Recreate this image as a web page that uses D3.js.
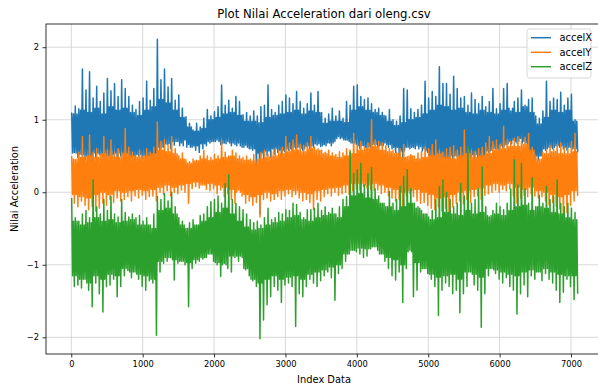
<!DOCTYPE html>
<html>
<head>
<meta charset="utf-8">
<script src="https://cdn.jsdelivr.net/npm/d3@7"></script>
<style>
  html, body { margin: 0; padding: 0; background: #ffffff; }
  svg { display: block; }
  text { font-family: "DejaVu Sans", sans-serif; fill: #000; }
</style>
</head>
<body>
<svg id="chart" width="598" height="389"></svg>
<script>
// Sensor readings from oleng.csv, summarised per block of 50 samples
// (local peak / local trough) and per block of 100 samples (the dense core band).
const binSize = 50;

const accelXHigh = [
  1.10,1.19,1.15,1.70,1.41,1.66,1.30,1.46,1.25,1.37,
  1.57,1.40,1.50,1.32,1.55,1.43,1.32,1.20,1.14,1.25,
  1.30,1.53,1.27,1.43,2.11,1.55,1.70,1.45,1.57,1.27,
  1.34,1.16,1.04,0.95,0.86,0.95,0.90,1.02,1.14,1.05,
  1.11,1.18,1.48,1.20,1.27,1.16,1.32,1.25,1.07,1.10,
  1.05,1.12,1.05,1.18,1.20,1.48,1.14,1.10,1.20,1.25,
  1.34,1.30,1.22,1.39,1.25,1.16,1.22,1.37,1.20,1.39,
  1.10,1.02,1.08,1.16,1.05,1.12,1.02,1.25,1.20,1.46,
  1.48,1.32,1.28,1.30,1.22,1.14,1.16,1.10,1.05,1.14,
  1.00,0.98,1.05,1.43,1.41,1.15,1.10,1.14,1.20,1.53,
  1.30,1.39,1.32,1.73,1.50,1.50,1.35,1.60,1.43,1.30,
  1.32,1.20,1.37,1.28,1.22,1.32,1.18,1.25,1.43,1.15,
  1.22,1.43,1.50,1.12,1.25,1.30,1.41,1.20,1.28,1.30,
  1.05,1.02,1.12,1.53,1.25,1.30,1.28,1.38,1.20,1.30,
  1.35,1.00
];
const accelXLow = [
  0.55,0.48,0.52,0.45,0.50,0.42,0.48,0.52,0.45,0.50,
  0.47,0.52,0.44,0.50,0.46,0.53,0.48,0.45,0.50,0.47,
  0.44,0.49,0.40,0.30,0.55,0.62,0.66,0.60,0.65,0.70,
  0.68,0.72,0.66,0.62,0.58,0.55,0.60,0.64,0.68,0.70,
  0.72,0.66,0.68,0.70,0.64,0.66,0.68,0.62,0.65,0.60,
  0.58,0.30,-0.30,0.45,0.50,0.48,0.52,0.55,0.50,0.56,
  0.58,0.55,0.60,0.62,0.58,0.63,0.60,0.62,0.65,0.63,
  0.66,0.68,0.64,0.70,0.77,0.75,0.72,0.70,0.68,0.66,
  0.60,0.64,0.58,0.62,0.66,0.63,0.65,0.68,0.62,0.60,
  0.55,0.50,0.45,0.62,0.60,0.62,0.64,0.63,0.60,0.55,
  0.50,0.45,0.48,0.44,0.46,0.42,0.47,0.50,0.48,0.46,
  0.45,0.48,0.44,0.47,0.45,0.50,0.55,0.58,0.60,0.56,
  0.62,0.66,0.70,0.72,0.68,0.74,0.70,0.60,0.45,0.42,
  0.44,0.50,0.58,0.62,0.60,0.64,0.62,0.60,0.58,0.62,
  0.60,0.55
];
const accelXCoreHigh = [
  1.08,1.13,1.10,1.16,1.08,1.18,1.13,1.16,1.10,1.06,
  1.13,1.18,1.28,1.23,1.13,1.03,0.90,0.84,0.88,1.00,
  1.03,1.08,1.10,1.06,0.98,0.98,0.96,1.03,1.06,1.08,
  1.10,1.13,1.08,1.12,1.10,0.95,0.98,0.98,0.96,1.13,
  1.18,1.13,1.10,1.06,0.98,0.92,0.96,1.00,1.03,1.08,
  1.13,1.20,1.18,1.13,1.16,1.10,1.08,1.13,1.10,1.08,
  1.13,1.16,1.10,1.18,1.10,0.94,1.03,1.13,1.10,1.13,
  0.98
];
const accelXCoreLow = [
  0.54,0.52,0.50,0.54,0.52,0.50,0.54,0.52,0.50,0.52,
  0.50,0.47,0.62,0.67,0.70,0.64,0.62,0.64,0.67,0.70,
  0.70,0.67,0.68,0.64,0.62,0.60,0.54,0.57,0.60,0.58,
  0.60,0.62,0.60,0.64,0.67,0.64,0.68,0.74,0.72,0.68,
  0.64,0.62,0.66,0.64,0.66,0.62,0.57,0.62,0.60,0.57,
  0.50,0.48,0.47,0.50,0.48,0.50,0.52,0.50,0.57,0.60,
  0.64,0.67,0.70,0.68,0.57,0.50,0.60,0.62,0.64,0.62,
  0.60
];

const accelYHigh = [
  0.50,0.45,0.55,0.77,0.50,0.79,0.55,0.60,0.52,0.77,
  0.58,0.72,0.55,0.60,0.55,0.88,0.62,0.55,0.50,0.58,
  0.50,0.60,0.55,0.62,0.97,0.70,0.72,0.65,0.77,0.60,
  0.50,0.54,0.45,0.42,0.46,0.44,0.50,0.58,0.50,0.48,
  0.52,0.50,0.72,0.55,0.50,0.58,0.54,0.50,0.48,0.50,
  0.46,0.52,0.45,0.55,0.58,0.52,0.56,0.60,0.58,0.62,
  0.77,0.68,0.72,0.79,0.66,0.64,0.68,0.77,0.62,0.60,
  0.58,0.55,0.58,0.54,0.52,0.56,0.54,0.60,0.58,0.81,
  0.66,0.70,0.62,0.68,1.00,0.72,0.70,0.68,0.64,0.60,
  0.58,0.55,0.60,0.66,0.49,0.52,0.50,0.54,0.56,0.62,
  0.60,0.66,0.72,0.58,0.55,0.60,0.62,0.64,0.58,0.62,
  0.86,0.60,0.58,0.56,0.60,0.62,0.68,0.77,0.70,0.72,
  0.66,0.91,0.72,0.70,0.74,0.77,0.70,0.76,0.81,0.62,
  0.50,0.45,0.55,0.58,0.64,0.60,0.66,0.68,0.62,0.60,
  0.70,0.81
];
const accelYLow = [
  -0.15,-0.20,-0.12,-0.18,-0.24,-0.20,-0.26,-0.22,-0.15,-0.18,
  -0.10,-0.14,-0.08,-0.12,-0.10,-0.06,-0.12,-0.05,-0.08,-0.04,
  -0.10,-0.06,-0.05,-0.12,0.00,-0.03,0.02,-0.05,0.00,-0.02,
  0.03,0.00,-0.15,0.05,0.08,0.06,0.10,0.04,0.02,0.05,
  -0.02,0.03,-0.06,-0.02,-0.10,-0.15,0.03,-0.05,-0.15,-0.12,
  -0.18,-0.14,-0.34,-0.10,-0.08,-0.12,-0.10,-0.06,-0.10,-0.05,
  -0.02,-0.06,-0.03,-0.08,-0.12,-0.10,-0.14,-0.24,-0.10,-0.12,
  -0.06,-0.02,-0.05,0.00,-0.04,-0.02,0.00,-0.03,0.02,0.05,
  0.03,0.08,0.06,0.04,0.02,0.03,-0.02,0.00,-0.05,-0.08,
  -0.12,-0.10,-0.34,-0.05,-0.02,-0.06,-0.12,-0.15,-0.14,-0.18,
  -0.22,-0.24,-0.20,-0.26,-0.22,-0.45,-0.20,-0.15,-0.12,-0.16,
  -0.10,-0.14,-0.06,-0.05,-0.10,-0.04,-0.02,0.00,0.03,0.00,
  0.04,0.02,0.05,-0.05,-0.15,-0.08,-0.04,-0.06,-0.02,-0.05,
  -0.08,-0.06,-0.12,-0.18,-0.14,-0.20,-0.23,-0.36,-0.28,-0.18,
  -0.12,-0.05
];
const accelYCoreHigh = [
  0.46,0.48,0.50,0.48,0.53,0.50,0.48,0.53,0.50,0.48,
  0.50,0.53,0.58,0.56,0.53,0.46,0.40,0.43,0.46,0.44,
  0.46,0.48,0.50,0.46,0.44,0.43,0.46,0.48,0.50,0.53,
  0.56,0.58,0.56,0.60,0.58,0.53,0.50,0.48,0.50,0.53,
  0.58,0.60,0.63,0.58,0.56,0.53,0.48,0.50,0.46,0.48,
  0.50,0.53,0.48,0.46,0.50,0.53,0.48,0.50,0.53,0.58,
  0.60,0.63,0.63,0.66,0.58,0.46,0.53,0.56,0.53,0.53,
  0.56
];
const accelYCoreLow = [
  -0.03,-0.06,-0.08,-0.03,0.00,-0.03,0.02,0.00,0.02,0.04,
  0.02,0.04,0.07,0.10,0.07,0.10,0.12,0.14,0.10,0.12,
  0.10,0.07,0.04,0.00,-0.03,-0.06,-0.03,0.00,-0.02,0.02,
  0.04,0.02,0.00,-0.02,0.02,0.04,0.06,0.07,0.10,0.12,
  0.12,0.10,0.12,0.10,0.07,0.04,0.00,0.02,0.04,0.00,
  -0.03,-0.08,-0.06,-0.03,0.00,0.02,0.04,0.06,0.10,0.12,
  0.10,0.12,0.07,0.04,0.07,0.02,0.00,-0.03,-0.06,-0.03,
  0.02
];

const accelZHigh = [
  -0.08,-0.35,-0.40,-0.30,-0.25,-0.35,0.17,-0.20,-0.30,-0.10,
  -0.25,-0.06,-0.30,-0.34,-0.10,-0.28,-0.34,-0.30,-0.35,-0.32,
  -0.40,-0.35,-0.45,-0.30,-0.06,-0.10,-0.02,-0.12,0.00,-0.20,
  -0.35,-0.40,-0.50,-0.42,-0.38,-0.45,-0.32,-0.30,-0.20,-0.13,
  -0.10,-0.05,-0.15,0.12,0.24,-0.10,-0.15,-0.20,-0.24,-0.30,
  -0.38,-0.42,-0.40,-0.45,-0.35,-0.22,-0.38,-0.35,-0.28,-0.30,
  -0.24,-0.25,-0.15,-0.17,-0.28,-0.35,-0.24,-0.24,-0.22,-0.15,
  -0.25,-0.20,-0.28,-0.22,-0.30,-0.20,-0.10,-0.06,0.56,0.26,
  0.31,0.40,0.10,0.26,0.34,0.05,-0.05,-0.15,-0.20,0.01,
  -0.15,-0.10,0.08,0.22,0.31,0.05,-0.15,-0.20,-0.25,-0.30,
  -0.34,-0.25,-0.10,0.08,0.17,0.00,-0.10,-0.20,-0.15,0.12,
  -0.05,0.63,-0.15,-0.10,0.05,0.35,-0.20,-0.34,-0.25,-0.15,
  -0.20,-0.24,-0.15,0.05,0.45,0.10,0.40,0.05,-0.15,0.20,
  -0.20,-0.04,-0.15,0.08,-0.10,-0.05,0.17,-0.15,-0.20,-0.15,
  -0.22,-0.28
];
const accelZLow = [
  -1.30,-1.28,-1.32,-1.20,-1.35,-1.58,-1.25,-1.40,-1.65,-1.30,
  -1.28,-1.20,-1.44,-1.30,-1.15,-1.08,-1.18,-1.10,-1.20,-1.30,
  -1.35,-1.22,-1.25,-1.97,-1.10,-0.98,-0.95,-0.90,-1.21,-0.98,
  -0.95,-1.00,-1.58,-1.05,-0.98,-0.95,-0.92,-0.90,-0.85,-0.95,
  -1.00,-1.16,-0.98,-1.05,-1.10,-0.90,-0.95,-0.90,-1.07,-1.15,
  -1.22,-1.30,-2.02,-1.76,-1.55,-1.44,-1.30,-1.35,-1.52,-1.28,
  -1.25,-1.30,-1.85,-1.40,-1.44,-1.30,-1.20,-1.25,-1.30,-1.22,
  -1.15,-1.10,-1.18,-1.49,-1.12,-1.05,-0.95,-0.85,-0.80,-0.82,
  -0.85,-0.90,-0.88,-0.78,-0.75,-0.80,-0.85,-0.95,-1.05,-1.15,
  -1.21,-1.10,-1.52,-1.05,-0.80,-1.44,-1.35,-1.10,-1.05,-1.12,
  -1.20,-1.30,-1.70,-1.35,-1.25,-1.30,-1.40,-1.35,-1.66,-1.40,
  -1.30,-1.10,-1.28,-1.35,-1.86,-1.40,-1.15,-1.05,-1.12,-1.20,
  -1.25,-1.18,-1.30,-1.35,-1.68,-1.40,-1.28,-1.44,-1.15,-1.20,
  -1.10,-1.22,-1.12,-1.20,-1.25,-1.35,-1.52,-1.38,-1.20,-1.30,
  -1.48,-1.40
];
const accelZCoreHigh = [
  -0.40,-0.45,-0.42,-0.35,-0.40,-0.38,-0.42,-0.40,-0.38,-0.45,
  -0.45,-0.50,-0.25,-0.22,-0.30,-0.45,-0.50,-0.45,-0.40,-0.35,
  -0.28,-0.22,-0.30,-0.40,-0.48,-0.52,-0.50,-0.45,-0.42,-0.40,
  -0.35,-0.32,-0.38,-0.40,-0.35,-0.32,-0.30,-0.35,-0.20,-0.05,
  -0.02,-0.08,-0.10,-0.15,-0.20,-0.25,-0.20,-0.15,-0.22,-0.30,
  -0.38,-0.35,-0.28,-0.30,-0.32,-0.25,-0.30,-0.28,-0.32,-0.30,
  -0.32,-0.25,-0.20,-0.18,-0.25,-0.20,-0.22,-0.28,-0.30,-0.35,
  -0.38
];
const accelZCoreLow = [
  -1.15,-1.20,-1.25,-1.15,-1.20,-1.13,-1.15,-1.05,-1.10,-1.13,
  -1.15,-1.20,-0.95,-0.90,-0.93,-0.95,-0.97,-0.93,-0.90,-0.85,
  -0.97,-1.00,-0.88,-0.88,-1.05,-1.20,-1.25,-1.20,-1.15,-1.20,
  -1.17,-1.15,-1.20,-1.13,-1.10,-1.07,-1.03,-1.00,-0.85,-0.80,
  -0.77,-0.78,-0.75,-0.85,-0.90,-0.93,-1.00,-0.82,-0.97,-1.05,
  -1.13,-1.17,-1.15,-1.13,-1.20,-1.10,-1.13,-1.17,-1.05,-1.07,
  -1.10,-1.13,-1.15,-1.10,-1.07,-1.10,-1.05,-1.10,-1.13,-1.15,
  -1.15
];

const seriesNames = ["accelX", "accelY", "accelZ"];
const seriesColors = ["#1f77b4", "#ff7f0e", "#2ca02c"];
const xTickValues = [0, 1000, 2000, 3000, 4000, 5000, 6000, 7000];
const yTickValues = [-2, -1, 0, 1, 2];

// Each 50-sample block becomes four vertices: peak, core bottom, core top, trough.
function toPoints(high, low, coreHigh, coreLow) {
  return high.flatMap((h, i) => {
    const k = Math.floor(i / 2);
    const start = i * binSize;
    return [
      { idx: start + 6,  v: h },
      { idx: start + 18, v: coreLow[k] },
      { idx: start + 31, v: coreHigh[k] },
      { idx: start + 43, v: low[i] }
    ];
  });
}
const series = [
  toPoints(accelXHigh, accelXLow, accelXCoreHigh, accelXCoreLow),
  toPoints(accelYHigh, accelYLow, accelYCoreHigh, accelYCoreLow),
  toPoints(accelZHigh, accelZLow, accelZCoreHigh, accelZCoreLow)
];

const svg = d3.select("#chart");
const plot = { left: 46, top: 24, right: 602, bottom: 354 };

const x = d3.scaleLinear().domain([-354, 7434]).range([plot.left, plot.right]);
const y = d3.scaleLinear().domain([-2.23, 2.32]).range([plot.bottom, plot.top]);

svg.append("defs").append("clipPath").attr("id", "plotClip")
  .append("rect")
  .attr("x", plot.left).attr("y", plot.top)
  .attr("width", plot.right - plot.left).attr("height", plot.bottom - plot.top);

// grid
const grid = svg.append("g").attr("stroke", "#cfcfcf").attr("stroke-width", 0.8);
grid.selectAll("line.gx").data(xTickValues).join("line")
  .attr("x1", d => x(d)).attr("x2", d => x(d))
  .attr("y1", plot.top).attr("y2", plot.bottom);
grid.selectAll("line.gy").data(yTickValues).join("line")
  .attr("x1", plot.left).attr("x2", plot.right)
  .attr("y1", d => y(d)).attr("y2", d => y(d));

// lines
const line = d3.line().x(d => x(d.idx)).y(d => y(d.v));
svg.append("g").attr("clip-path", "url(#plotClip)")
  .selectAll("path").data(series).join("path")
  .attr("d", line)
  .attr("fill", "none")
  .attr("stroke", (d, i) => seriesColors[i])
  .attr("stroke-width", 1.5)
  .attr("stroke-linejoin", "round");

// frame
svg.append("rect")
  .attr("x", plot.left).attr("y", plot.top)
  .attr("width", plot.right - plot.left).attr("height", plot.bottom - plot.top)
  .attr("fill", "none").attr("stroke", "#000").attr("stroke-width", 0.8);

// axes
const xAxis = svg.append("g").attr("transform", `translate(0,${plot.bottom})`)
  .call(d3.axisBottom(x).tickValues(xTickValues).tickFormat(d3.format("d"))
    .tickSize(3.5).tickPadding(3.5));
const yAxis = svg.append("g").attr("transform", `translate(${plot.left},0)`)
  .call(d3.axisLeft(y).tickValues(yTickValues).tickFormat(d3.format("d"))
    .tickSize(3.5).tickPadding(3.5));
[xAxis, yAxis].forEach(g => {
  g.select(".domain").remove();
  g.selectAll(".tick line").attr("stroke", "#000").attr("stroke-width", 0.8);
  g.selectAll(".tick text").attr("font-size", 8.3).attr("fill", "#000")
    .style("font-family", "'DejaVu Sans', sans-serif");
});

// title and axis labels
svg.append("text").attr("x", 324).attr("y", 18.3).attr("text-anchor", "middle")
  .attr("font-size", 11.7).text("Plot Nilai Acceleration dari oleng.csv");
svg.append("text").attr("x", 324).attr("y", 383.3).attr("text-anchor", "middle")
  .attr("font-size", 9.9).text("Index Data");
svg.append("text").attr("transform", "translate(17.5,189) rotate(-90)")
  .attr("text-anchor", "middle").attr("font-size", 9.9).text("Nilai Acceleration");

// legend
const legend = svg.append("g");
legend.append("rect").attr("x", 527).attr("y", 29).attr("width", 64).attr("height", 49)
  .attr("rx", 2.5).attr("fill", "#fff").attr("fill-opacity", 0.8)
  .attr("stroke", "#cccccc").attr("stroke-width", 0.8);
const rows = [37.7, 52.3, 66.7];
seriesNames.forEach((name, i) => {
  legend.append("line").attr("x1", 531).attr("x2", 551)
    .attr("y1", rows[i]).attr("y2", rows[i])
    .attr("stroke", seriesColors[i]).attr("stroke-width", 1.5);
  legend.append("text").attr("x", 559.5).attr("y", rows[i])
    .attr("dominant-baseline", "central").attr("font-size", 9.9).text(name);
});
</script>
</body>
</html>
